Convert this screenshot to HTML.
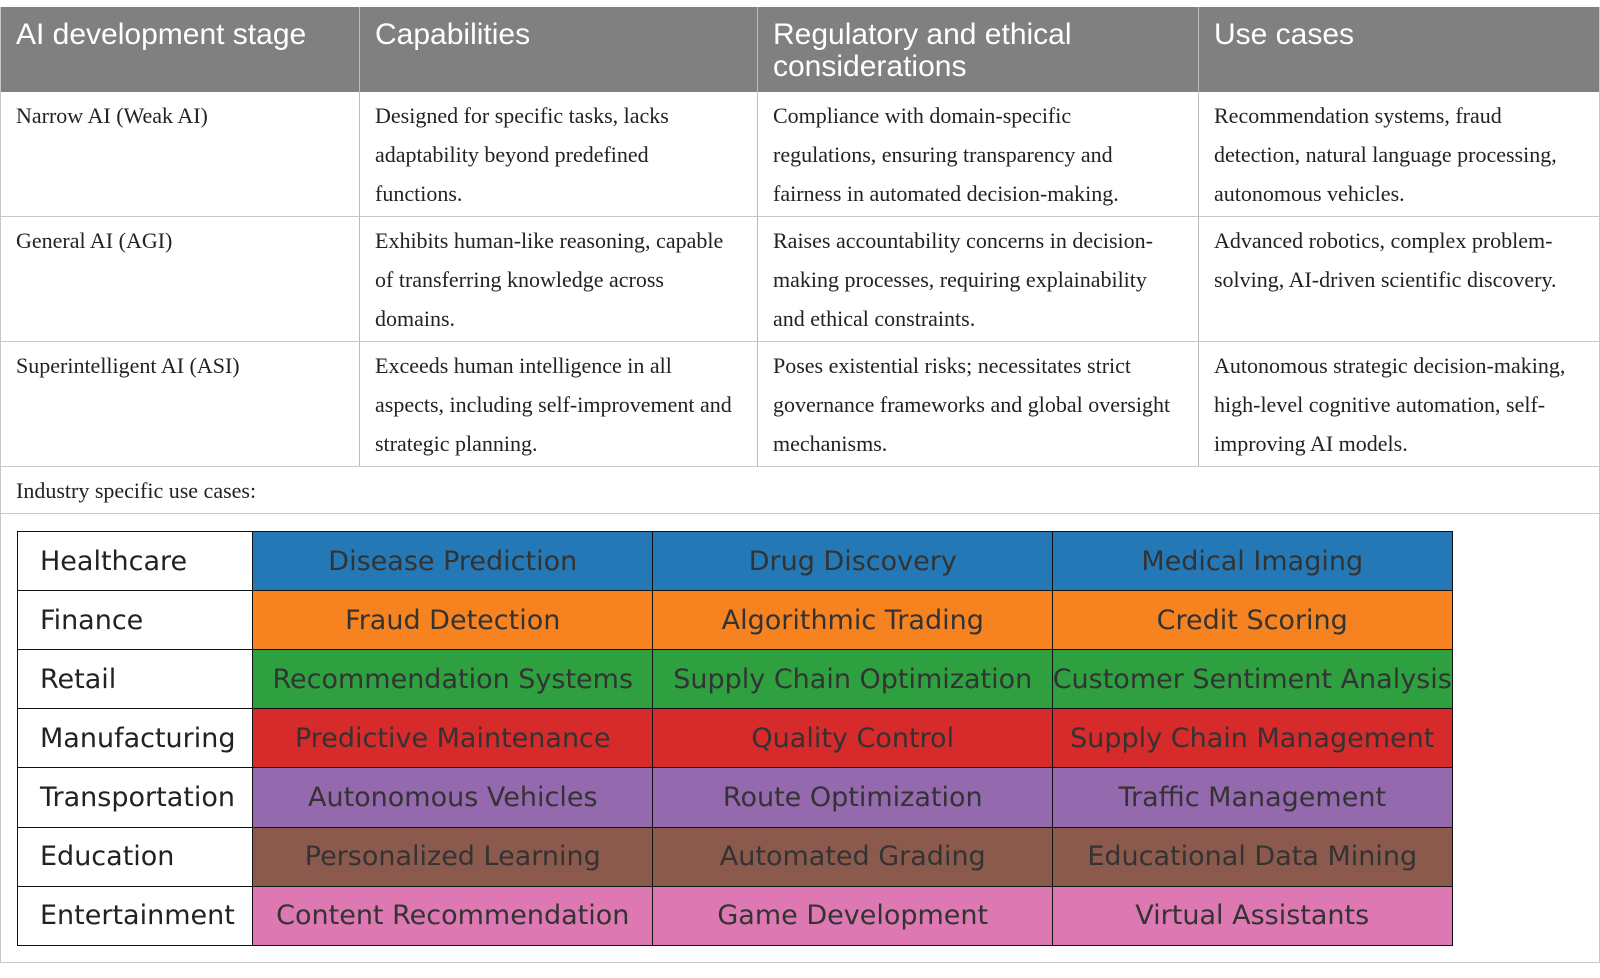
<!DOCTYPE html>
<html><head><meta charset="utf-8"><style>
body{margin:0;width:1600px;height:978px;background:#fff;position:relative;overflow:hidden}
.a{position:absolute}
.h{font-family:"Liberation Sans",sans-serif;font-size:30px;color:#fff;line-height:32px}
.t{font-family:"Liberation Serif",serif;font-size:22px;color:#222;line-height:38.8px}
.hl{position:absolute;height:1px;background:#c8c8c8}
.vl{position:absolute;width:1px;background:#c8c8c8}
.c{position:absolute;box-sizing:border-box;border:1.5px solid #111;font-family:"DejaVu Sans",sans-serif;font-size:27px;color:#333;display:flex;align-items:center;justify-content:center;white-space:nowrap;overflow:visible}
.f{justify-content:flex-start;padding-left:22px;background:#fff;color:#222}
</style></head><body>
<div class="a" style="left:0;top:7px;width:1600px;height:85px;background:#808080"></div>
<div class="vl" style="left:0;top:7px;height:956px"></div>
<div class="vl" style="left:1599px;top:7px;height:956px"></div>
<div class="vl" style="left:359px;top:7px;height:459px;background:#bbb"></div>
<div class="vl" style="left:757px;top:7px;height:459px;background:#bbb"></div>
<div class="vl" style="left:1198px;top:7px;height:459px;background:#bbb"></div>
<div class="hl" style="left:0;top:216px;width:1600px"></div>
<div class="hl" style="left:0;top:341px;width:1600px"></div>
<div class="hl" style="left:0;top:466px;width:1600px"></div>
<div class="hl" style="left:0;top:513px;width:1600px"></div>
<div class="hl" style="left:0;top:962px;width:1600px"></div>

<div class="a h" style="left:16px;top:19px">AI development stage</div>
<div class="a h" style="left:375px;top:19px">Capabilities</div>
<div class="a h" style="left:773px;top:19px">Regulatory and ethical<br>considerations</div>
<div class="a h" style="left:1214px;top:19px">Use cases</div>

<div class="a t" style="left:16px;top:97px">Narrow AI (Weak AI)</div>
<div class="a t" style="left:375px;top:97px">Designed for specific tasks, lacks<br>adaptability beyond predefined<br>functions.</div>
<div class="a t" style="left:773px;top:97px">Compliance with domain-specific<br>regulations, ensuring transparency and<br>fairness in automated decision-making.</div>
<div class="a t" style="left:1214px;top:97px">Recommendation systems, fraud<br>detection, natural language processing,<br>autonomous vehicles.</div>

<div class="a t" style="left:16px;top:222px">General AI (AGI)</div>
<div class="a t" style="left:375px;top:222px">Exhibits human-like reasoning, capable<br>of transferring knowledge across<br>domains.</div>
<div class="a t" style="left:773px;top:222px">Raises accountability concerns in decision-<br>making processes, requiring explainability<br>and ethical constraints.</div>
<div class="a t" style="left:1214px;top:222px">Advanced robotics, complex problem-<br>solving, AI-driven scientific discovery.</div>

<div class="a t" style="left:16px;top:347px">Superintelligent AI (ASI)</div>
<div class="a t" style="left:375px;top:347px">Exceeds human intelligence in all<br>aspects, including self-improvement and<br>strategic planning.</div>
<div class="a t" style="left:773px;top:347px">Poses existential risks; necessitates strict<br>governance frameworks and global oversight<br>mechanisms.</div>
<div class="a t" style="left:1214px;top:347px">Autonomous strategic decision-making,<br>high-level cognitive automation, self-<br>improving AI models.</div>

<div class="a t" style="left:16px;top:472px">Industry specific use cases:</div>

<div id="g"></div>
<script>
var rows=[["Healthcare","#2478b5","Disease Prediction","Drug Discovery","Medical Imaging"],
["Finance","#f78220","Fraud Detection","Algorithmic Trading","Credit Scoring"],
["Retail","#2ea040","Recommendation Systems","Supply Chain Optimization","Customer Sentiment Analysis"],
["Manufacturing","#d62a2b","Predictive Maintenance","Quality Control","Supply Chain Management"],
["Transportation","#9469ad","Autonomous Vehicles","Route Optimization","Traffic Management"],
["Education","#8c5a4d","Personalized Learning","Automated Grading","Educational Data Mining"],
["Entertainment","#de78b2","Content Recommendation","Game Development","Virtual Assistants"]];
var xs=[17,252,652,1052,1451],h="";
for(var i=0;i<7;i++){var y=531+i*59.1;
for(var j=0;j<4;j++){var bg=j==0?"":"background:"+rows[i][1]+";";
h+='<div class="c'+(j==0?' f':'')+'" style="left:'+xs[j]+'px;top:'+y+'px;width:'+(xs[j+1]-xs[j]+1.5)+'px;height:60.6px;'+bg+'">'+rows[i][j==0?0:j+1]+'</div>';}}
document.getElementById("g").innerHTML=h;
</script>
</body></html>
